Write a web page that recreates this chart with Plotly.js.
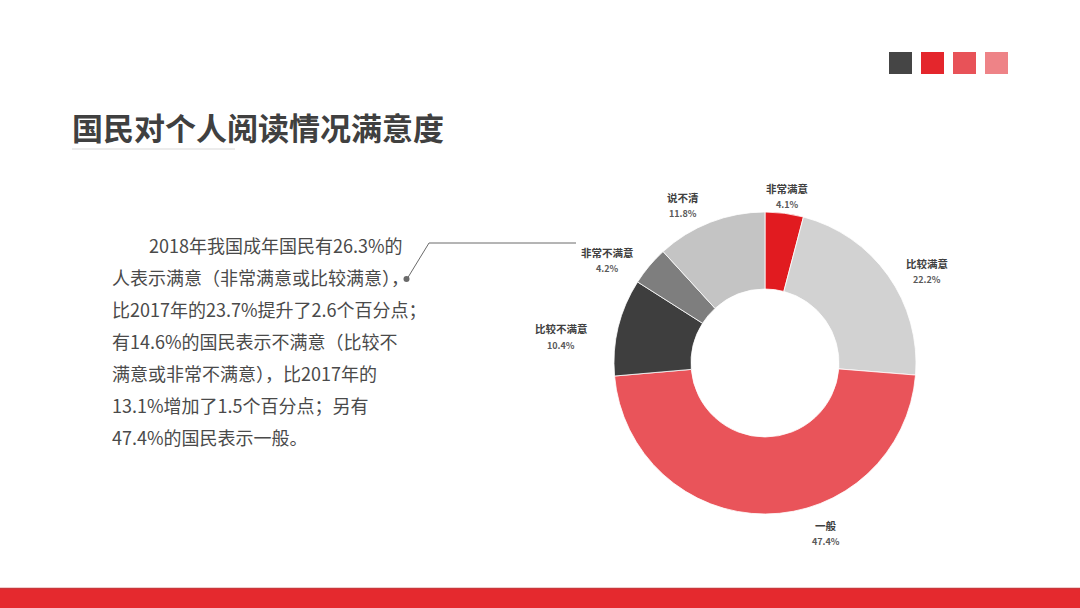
<!DOCTYPE html>
<html>
<head>
<meta charset="utf-8">
<script src="https://cdn.plot.ly/plotly-3.0.1.min.js"></script>
<style>
html,body{margin:0;padding:0;background:#fff;}
#chart{width:1080px;height:608px;}
</style>
</head>
<body>
<div id="chart"></div>
<script>
// ---- data ----
const titleText = '国民对个人阅读情况满意度';
const categories = ['非常满意', '比较满意', '一般', '比较不满意', '非常不满意', '说不清'];
const values = [4.1, 22.2, 47.4, 10.4, 4.2, 11.8];
const paragraphLines = [
  '2018年我国成年国民有26.3%的',
  '人表示满意（非常满意或比较满意），',
  '比2017年的23.7%提升了2.6个百分点；',
  '有14.6%的国民表示不满意（比较不',
  '满意或非常不满意），比2017年的',
  '13.1%增加了1.5个百分点；另有',
  '47.4%的国民表示一般。'
];

// ---- styles / positions ----
const W = 1080, H = 608;
const px = x => x / W;
const py = y => 1 - y / H;
const sliceColors = ['#E11B20', '#D2D2D2', '#E9545A', '#3E3E3E', '#7E7E7E', '#C4C4C4'];
const labelPos = [[787, 188], [927, 263], [826, 525], [561, 329], [607, 252], [683, 197]];
const FONT = '"Noto Sans CJK SC", "Noto Sans", sans-serif';

const cx = 765, cy = 363, R = 151;

const trace = {
  type: 'pie',
  labels: categories,
  values: values,
  sort: false,
  direction: 'clockwise',
  rotation: 0,
  hole: 0.49,
  textinfo: 'none',
  hoverinfo: 'label+value',
  marker: {colors: sliceColors, line: {color: '#ffffff', width: 0.8}},
  domain: {x: [px(cx - R), px(cx + R)], y: [py(cy + R), py(cy - R)]},
  showlegend: false
};

const annotations = [];
// title
annotations.push({xref: 'paper', yref: 'paper', x: px(70), y: py(127), xanchor: 'left', yanchor: 'middle',
  text: '<b>' + titleText + '</b>', showarrow: false, font: {family: FONT, size: 31, color: '#404040'}});
// paragraph
paragraphLines.forEach((t, i) => {
  annotations.push({xref: 'paper', yref: 'paper', x: px(i === 0 ? 147 : 110), y: py(245 + i * 32),
    xanchor: 'left', yanchor: 'middle', text: t, showarrow: false,
    font: {family: FONT, size: 18, color: '#4a4a4a'}});
});
// slice labels
categories.forEach((c, i) => {
  const [lx, ly] = labelPos[i];
  annotations.push({xref: 'paper', yref: 'paper', x: px(lx), y: py(ly), xanchor: 'center', yanchor: 'middle',
    text: '<b>' + c + '</b>', showarrow: false, font: {family: FONT, size: 10.5, color: '#404040'}});
  annotations.push({xref: 'paper', yref: 'paper', x: px(lx), y: py(ly + 16.5), xanchor: 'center', yanchor: 'middle',
    text: '<b>' + values[i].toFixed(1) + '%</b>', showarrow: false, font: {family: FONT, size: 9, color: '#595959'}});
});

const squareColors = ['#454545', '#E4262C', '#E85258', '#EE8387'];
const shapes = [];
squareColors.forEach((col, i) => {
  const x0 = 889 + i * 32;
  shapes.push({type: 'rect', xref: 'paper', yref: 'paper', x0: px(x0), x1: px(x0 + 23), y0: py(74), y1: py(52),
    fillcolor: col, line: {width: 0}});
});
// title underline
shapes.push({type: 'line', xref: 'paper', yref: 'paper', x0: px(72), x1: px(235), y0: py(149), y1: py(149),
  line: {color: '#D9D9D9', width: 1.2}});
// connector
shapes.push({type: 'path', xref: 'paper', yref: 'paper',
  path: `M ${px(407)} ${py(279)} L ${px(429)} ${py(243)} L ${px(576)} ${py(243)}`,
  line: {color: '#6a6a6a', width: 1}});
shapes.push({type: 'circle', xref: 'paper', yref: 'paper', x0: px(403.5), x1: px(409.5), y0: py(282), y1: py(276),
  fillcolor: '#6a6a6a', line: {width: 0}});
// bottom bar
shapes.push({type: 'rect', xref: 'paper', yref: 'paper', x0: 0, x1: 1, y0: 0, y1: py(588),
  fillcolor: '#E5292E', line: {width: 0}, layer: 'below'});
shapes.push({type: 'line', xref: 'paper', yref: 'paper', x0: 0, x1: 1, y0: py(588.5), y1: py(588.5),
  line: {color: '#C8383C', width: 1.5}});

const layout = {
  width: W, height: H,
  margin: {l: 0, r: 0, t: 0, b: 0},
  paper_bgcolor: '#ffffff',
  plot_bgcolor: '#ffffff',
  showlegend: false,
  annotations: annotations,
  shapes: shapes
};

Plotly.newPlot('chart', [trace], layout, {displayModeBar: false, staticPlot: true});
</script>
</body>
</html>
